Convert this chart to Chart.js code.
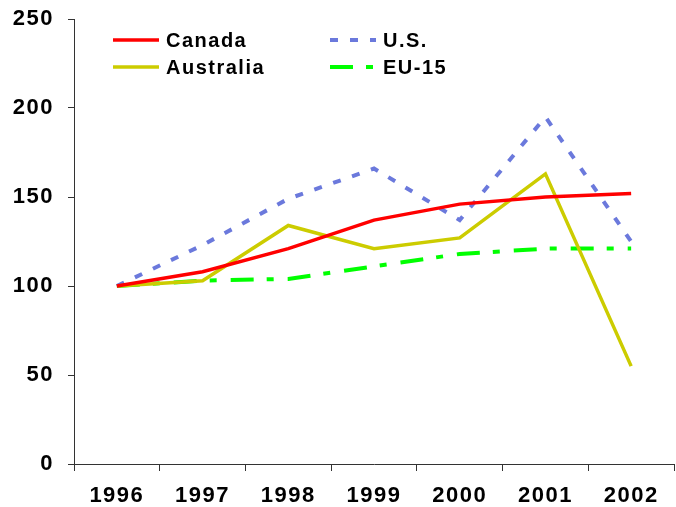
<!DOCTYPE html>
<html>
<head>
<meta charset="utf-8">
<script src="https://cdn.jsdelivr.net/npm/chart.js@4/dist/chart.umd.min.js"></script>
<style>
  html, body { margin: 0; padding: 0; background: #fff; }
  #wrap { width: 676px; height: 507px; }
</style>
</head>
<body>
<div id="wrap"><canvas id="chart" width="676" height="507"></canvas></div>
<script>
// Chart data
const years = ['1996', '1997', '1998', '1999', '2000', '2001', '2002'];
const canada = [100, 108, 121, 137, 146, 150, 152];
const us = [100, 123, 149, 166, 137, 195, 125];
const australia = [100, 103, 134, 121, 127, 163, 55];
const eu15 = [100, 103, 104, 111, 118, 121, 121];
const yTicks = [0, 50, 100, 150, 200, 250];

const FONT = '"Liberation Sans", Arial, sans-serif';
const SPACING = '1.5px';

// Set letter spacing before Chart.js draws any text
const spacingPlugin = {
    id: 'spacing',
    beforeUpdate(chart) { chart.ctx.letterSpacing = SPACING; },
    beforeDraw(chart) { chart.ctx.letterSpacing = SPACING; }
};

// Legend drawn in two rows, two columns, inside the plot area
const legendPlugin = {
    id: 'customLegend',
    afterDraw(chart) {
        const ctx = chart.ctx;
        const spots = [
            { x: 113, y: 40 }, { x: 330, y: 40 },
            { x: 113, y: 67 }, { x: 330, y: 67 }
        ];
        chart.data.datasets.forEach((ds, i) => {
            const p = spots[i];
            ctx.save();
            ctx.beginPath();
            ctx.rect(p.x, p.y - 5, 46, 10);
            ctx.clip();
            ctx.strokeStyle = ds.borderColor;
            ctx.lineWidth = ds.borderWidth;
            ctx.setLineDash(ds.borderDash || []);
            ctx.beginPath();
            ctx.moveTo(p.x, p.y);
            ctx.lineTo(p.x + 46, p.y);
            ctx.stroke();
            ctx.restore();

            ctx.save();
            ctx.letterSpacing = SPACING;
            ctx.font = 'bold 20px ' + FONT;
            ctx.fillStyle = '#000';
            ctx.textBaseline = 'middle';
            ctx.textAlign = 'left';
            ctx.fillText(ds.label, p.x + 53, p.y + 1);
            ctx.restore();
        });
    }
};

new Chart(document.getElementById('chart'), {
    type: 'line',
    data: {
        labels: years,
        datasets: [
            { label: 'Canada', data: canada, borderColor: '#ff0000', borderWidth: 3.5 },
            { label: 'U.S.', data: us, borderColor: '#6b79dc', borderWidth: 4, borderDash: [8, 12] },
            { label: 'Australia', data: australia, borderColor: '#cccc00', borderWidth: 3.5 },
            { label: 'EU-15', data: eu15, borderColor: '#00ff00', borderWidth: 4, borderDash: [23, 13, 7, 14] }
        ]
    },
    options: {
        responsive: false,
        animation: false,
        elements: {
            point: { radius: 0 },
            line: { tension: 0, fill: false }
        },
        layout: { padding: { top: 19, right: 2, left: 0, bottom: 0 } },
        plugins: {
            legend: { display: false },
            tooltip: { enabled: false }
        },
        scales: {
            x: {
                offset: true,
                grid: { offset: true, drawOnChartArea: false, drawTicks: true, tickLength: 7, color: '#333' },
                border: { display: true, color: '#333', width: 1 },
                ticks: {
                    color: '#000',
                    font: { family: FONT, size: 22, weight: 'bold' },
                    padding: 12,
                    maxRotation: 0
                },
                afterFit(scale) {
                    scale.height = 43;
                    scale.paddingLeft = 0;
                    scale.paddingRight = 0;
                }
            },
            y: {
                min: 0,
                max: 250,
                afterBuildTicks(scale) { scale.ticks = yTicks.map(v => ({ value: v })); },
                grid: { drawOnChartArea: false, drawTicks: true, tickLength: 6, color: '#333' },
                border: { display: true, color: '#333', width: 1 },
                ticks: {
                    color: '#000',
                    font: { family: FONT, size: 22, weight: 'bold' },
                    padding: 14
                },
                afterFit(scale) {
                    scale.width = 74;
                    scale.paddingTop = 0;
                    scale.paddingBottom = 0;
                }
            }
        }
    },
    plugins: [spacingPlugin, legendPlugin]
});
</script>
</body>
</html>
